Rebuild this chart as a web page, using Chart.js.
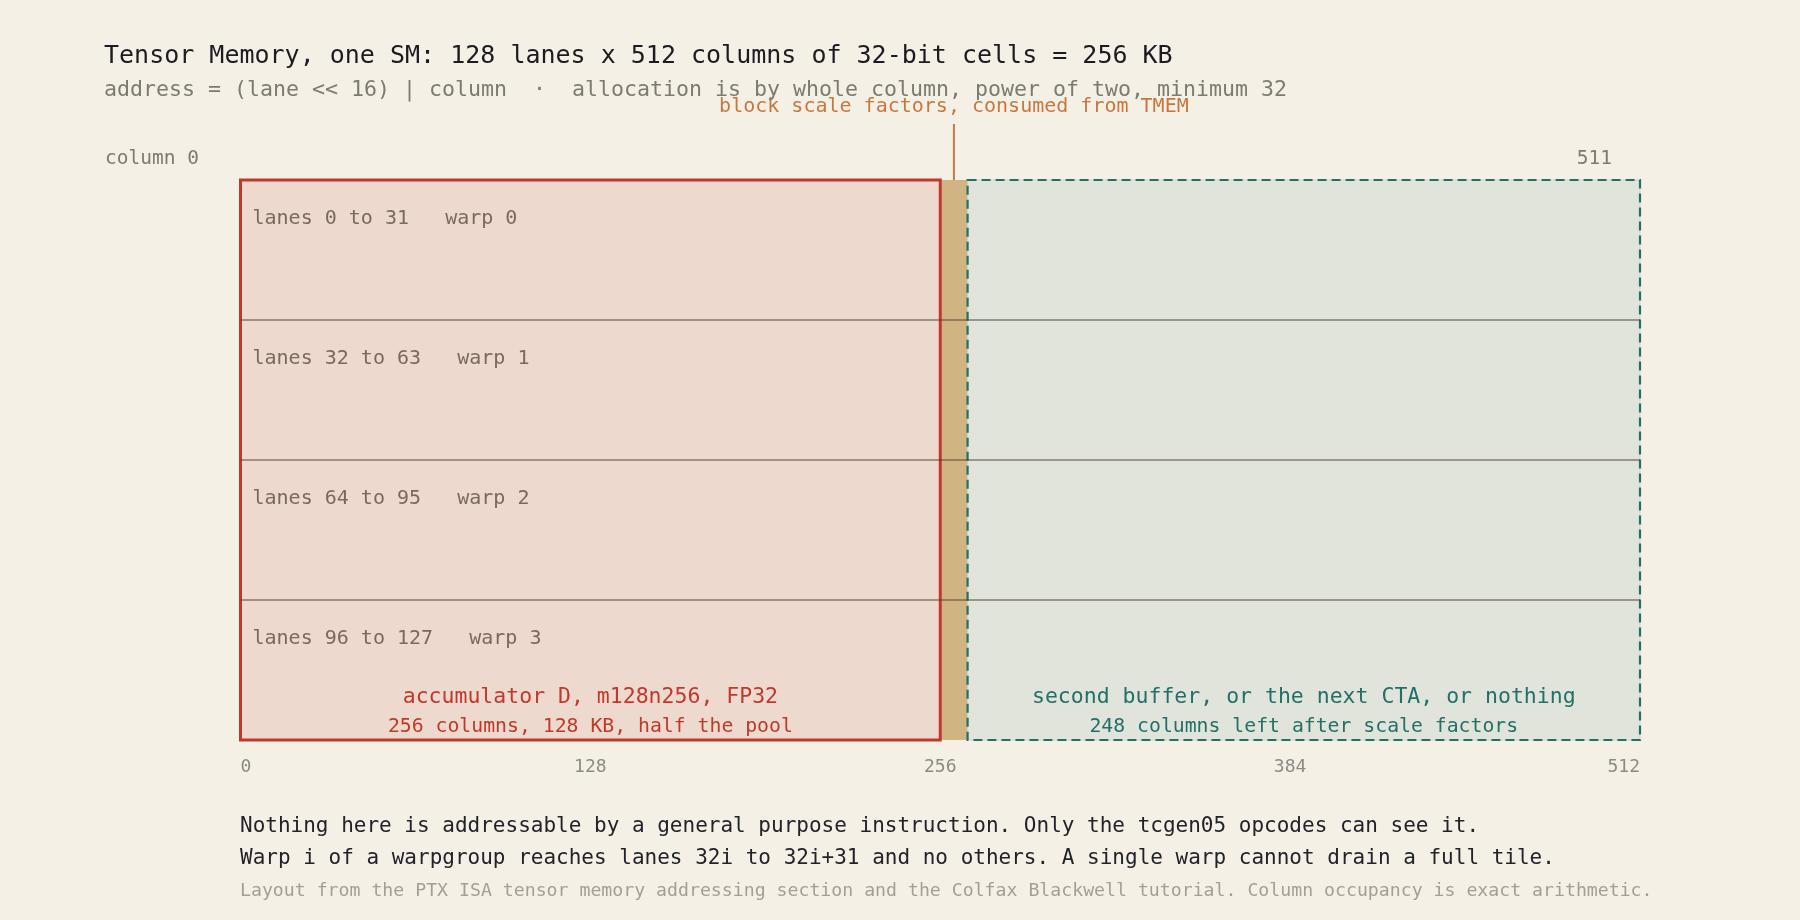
<!DOCTYPE html>
<html lang="en">
<head>
    <meta charset="UTF-8">
    <title>Tensor Memory, one SM</title>
    <script src="https://cdn.jsdelivr.net/npm/chart.js"></script>
    <style>
        body {
            margin: 0;
            background: #f5f0e6;
            font-family: "DejaVu Sans Mono", monospace;
        }
        .page {
            position: relative;
            width: 1800px;
            height: 920px;
            overflow: hidden;
        }
        .page canvas {
            position: absolute;
            left: 0;
            top: 0;
        }
        .txt {
            position: absolute;
            white-space: pre;
        }
        .title { left: 104px; top: 40px; font-size: 25px; line-height: 30px; color: #1c1b22; }
        .subtitle { left: 104px; top: 76px; font-size: 21.6px; line-height: 26px; color: #7d7a74; }
        .note { left: 240px; top: 809px; font-size: 21px; line-height: 32px; color: #22222a; }
        .source { left: 240px; top: 874px; font-size: 18.2px; line-height: 32px; color: #a39e96; }
    </style>
</head>
<body>
    <div class="page">
        <canvas id="tmemChart" width="1800" height="920"></canvas>
        <div class="txt title">Tensor Memory, one SM: 128 lanes x 512 columns of 32-bit cells = 256 KB</div>
        <div class="txt subtitle">address = (lane &lt;&lt; 16) | column  ·  allocation is by whole column, power of two, minimum 32</div>
        <div class="txt note">Nothing here is addressable by a general purpose instruction. Only the tcgen05 opcodes can see it.
Warp i of a warpgroup reaches lanes 32i to 32i+31 and no others. A single warp cannot drain a full tile.</div>
        <div class="txt source">Layout from the PTX ISA tensor memory addressing section and the Colfax Blackwell tutorial. Column occupancy is exact arithmetic.</div>
    </div>

    <script>
        // column regions of the 512-column pool
        const regionNames = ['accumulator D', 'block scale factors', 'second buffer'];
        const regionStart = [0, 256, 266];
        const regionEnd = [256, 266, 512];
        const regionFill = ['#eed9ce', '#d0b482', '#e1e4da'];

        // lane groups, one per warp
        const laneBounds = [0, 32, 64, 96, 128];
        const warpIds = [0, 1, 2, 3];

        const xTicks = [0, 128, 256, 384, 512];
        const totalColumns = 512;
        const totalLanes = 128;

        const regionTitles = ['accumulator D, m128n256, FP32', '', 'second buffer, or the next CTA, or nothing'];
        const regionNotes = ['256 columns, 128 KB, half the pool', '', '248 columns left after scale factors'];
        const scaleNote = 'block scale factors, consumed from TMEM';

        const FONT = '"DejaVu Sans Mono"';
        const RED = '#c0392b';
        const TEAL = '#23706a';

        function font(size) {
            return size + 'px ' + FONT;
        }

        const tmemOverlay = {
            id: 'tmemOverlay',
            afterDatasetsDraw(chart) {
                const { ctx } = chart;
                const x = chart.scales.x;
                const lane = chart.scales.lane;
                const top = lane.getPixelForValue(0);
                const bottom = lane.getPixelForValue(totalLanes);
                const left = x.getPixelForValue(0);
                const right = x.getPixelForValue(totalColumns);

                ctx.save();

                // second buffer: faint outline under a dashed teal border
                const bx0 = x.getPixelForValue(regionStart[2]);
                const bx1 = x.getPixelForValue(regionEnd[2]);
                ctx.strokeStyle = '#d3d3ca';
                ctx.lineWidth = 1;
                ctx.strokeRect(bx0, top, bx1 - bx0, bottom - top);
                ctx.setLineDash([9, 5]);
                ctx.strokeStyle = TEAL;
                ctx.lineWidth = 2.2;
                ctx.strokeRect(bx0, top, bx1 - bx0, bottom - top);
                ctx.setLineDash([]);

                // accumulator border
                const ax0 = x.getPixelForValue(regionStart[0]);
                const ax1 = x.getPixelForValue(regionEnd[0]);
                ctx.strokeStyle = RED;
                ctx.lineWidth = 3;
                ctx.strokeRect(ax0, top, ax1 - ax0, bottom - top);

                // lane group separators, over everything
                ctx.strokeStyle = 'rgba(70, 55, 45, 0.45)';
                ctx.lineWidth = 2;
                laneBounds.slice(1, -1).forEach(b => {
                    const y = lane.getPixelForValue(b);
                    ctx.beginPath();
                    ctx.moveTo(left, y);
                    ctx.lineTo(right, y);
                    ctx.stroke();
                });

                // scale factor callout
                const sx = x.getPixelForValue((regionStart[1] + regionEnd[1]) / 2);
                ctx.strokeStyle = '#c87a45';
                ctx.lineWidth = 2;
                ctx.beginPath();
                ctx.moveTo(sx, top - 56);
                ctx.lineTo(sx, top);
                ctx.stroke();
                ctx.fillStyle = '#c8783c';
                ctx.font = font(20);
                ctx.textAlign = 'center';
                ctx.textBaseline = 'alphabetic';
                ctx.fillText(scaleNote, sx, top - 68);

                // column ends above the grid
                ctx.fillStyle = '#7d7a74';
                ctx.font = font(19.5);
                ctx.textAlign = 'left';
                ctx.fillText('column ' + xTicks[0], 105, top - 16);
                ctx.textAlign = 'right';
                ctx.fillText(String(totalColumns - 1), right - 28, top - 16);

                // lane labels
                ctx.fillStyle = '#7a6a5c';
                ctx.font = font(20);
                ctx.textAlign = 'left';
                warpIds.forEach((w, i) => {
                    const y = lane.getPixelForValue(laneBounds[i]) + 44;
                    const label = 'lanes ' + laneBounds[i] + ' to ' + (laneBounds[i + 1] - 1) + '   warp ' + w;
                    ctx.fillText(label, left + 12, y);
                });

                // region captions
                [0, 2].forEach(r => {
                    const cx = (x.getPixelForValue(regionStart[r]) + x.getPixelForValue(regionEnd[r])) / 2;
                    ctx.textAlign = 'center';
                    ctx.fillStyle = r === 0 ? RED : TEAL;
                    ctx.font = font(21.5);
                    ctx.fillText(regionTitles[r], cx, bottom - 37);
                    ctx.font = font(19.8);
                    ctx.fillText(regionNotes[r], cx, bottom - 8);
                });

                // column axis
                ctx.fillStyle = '#8c8a86';
                ctx.font = font(18);
                xTicks.forEach((t, i) => {
                    ctx.textAlign = i === 0 ? 'left' : (i === xTicks.length - 1 ? 'right' : 'center');
                    ctx.fillText(String(t), x.getPixelForValue(t), bottom + 32);
                });

                ctx.restore();
            }
        };

        const ctx = document.getElementById('tmemChart').getContext('2d');
        new Chart(ctx, {
            type: 'bar',
            data: {
                labels: ['TMEM'],
                datasets: regionNames.map((name, i) => ({
                    label: name,
                    data: [[regionStart[i], regionEnd[i]]],
                    backgroundColor: regionFill[i],
                    borderWidth: 0,
                    grouped: false,
                    barPercentage: 1,
                    categoryPercentage: 1
                }))
            },
            options: {
                indexAxis: 'y',
                responsive: false,
                animation: false,
                devicePixelRatio: 1,
                layout: {
                    padding: { left: 240.5, right: 160, top: 180, bottom: 180 }
                },
                scales: {
                    x: { type: 'linear', min: 0, max: totalColumns, display: false },
                    y: { display: false },
                    lane: { type: 'linear', axis: 'y', min: 0, max: totalLanes, reverse: true, offset: false, display: false }
                },
                plugins: {
                    legend: { display: false },
                    tooltip: { enabled: false }
                }
            },
            plugins: [tmemOverlay]
        });
    </script>
</body>
</html>
